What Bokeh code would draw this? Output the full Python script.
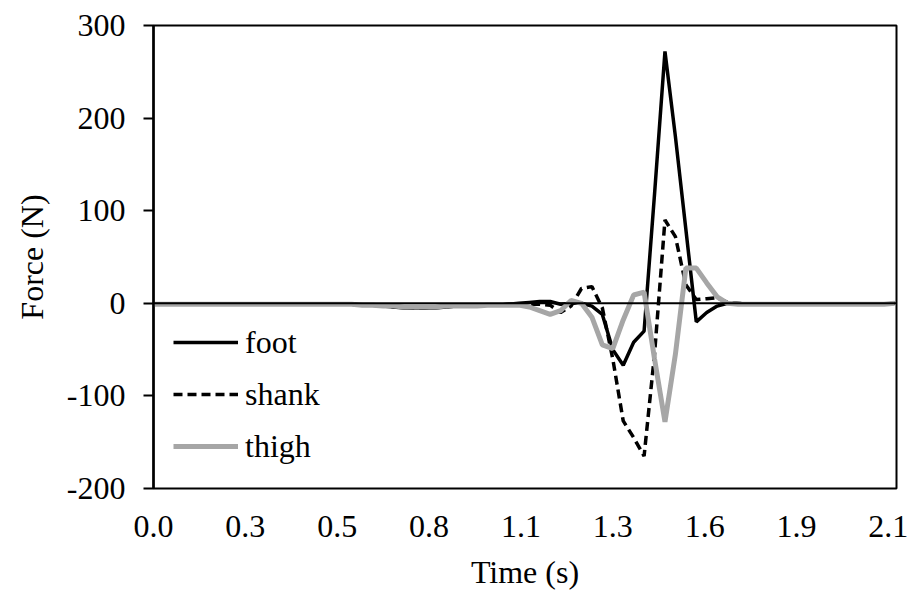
from bokeh.plotting import figure
from bokeh.models import Range1d, FixedTicker, Span, Legend, LegendItem
from bokeh.embed import file_html
from bokeh.resources import INLINE

# ---- data ----
dt = 1 / 33
n_samples = 72
time = [i * dt for i in range(n_samples)]

foot = [-1, -1, -1, -1, -1, -1, -1, -1, -1, -1,
        -1, -1, -1, -1, -1, -1, -1, -1, -1, -1,
        -2, -2, -3, -4, -5, -5, -5, -5, -4, -3,
        -3, -2, -2, -2, -1, 0, 1, 2, 2, -1,
        0, 0, -3, -12, -50, -67, -42, -30, 118, 272,
        180, 80, -20, -10, -3, 0, -1, -1, -1, -1,
        -1, -1, -1, -1, -1, -1, -1, -1, -1, -1,
        -1, 0]

shank = [-1, -1, -1, -1, -1, -1, -1, -1, -1, -1,
         -1, -1, -1, -1, -1, -1, -1, -1, -1, -1,
         -2, -2, -3, -4, -4, -5, -5, -4, -4, -3,
         -3, -2, -2, -2, -1, -1, -1, -1, -2, -10,
         -3, 16, 18, -5, -60, -127, -145, -165, -55, 90,
         72, 20, 4, 5, 6, 1, 0, -1, -1, -1,
         -1, -1, -1, -1, -1, -1, -1, -1, -1, -1,
         -1, 0]

thigh = [-1, -1, -1, -1, -1, -1, -1, -1, -1, -1,
         -1, -1, -1, -1, -1, -1, -1, -1, -1, -1,
         -2, -2, -3, -3, -4, -4, -4, -4, -3, -3,
         -3, -3, -2, -2, -2, -2, -4, -8, -12, -8,
         3, 0, -15, -45, -49, -18, 9, 12, -60, -128,
         -55, 38, 38, 22, 7, 0, -1, -1, -1, -1,
         -1, -1, -1, -1, -1, -1, -1, -1, -1, -1,
         -1, 0]

x_ticks = [0, 0.2667, 0.5333, 0.8, 1.0667, 1.3333, 1.6, 1.8667, 2.1333]
x_tick_labels = ["0.0", "0.3", "0.5", "0.8", "1.1", "1.3", "1.6", "1.9", "2.1"]
y_ticks = [-200, -100, 0, 100, 200, 300]
y_tick_labels = ["-200", "-100", "0", "100", "200", "300"]

FONT = "Liberation Serif"
FS = "32px"

p = figure(width=909, height=601, output_backend="svg", toolbar_location=None,
           x_range=Range1d(0, 2.157), y_range=Range1d(-200, 300),
           min_border_left=153, min_border_right=13, min_border_top=25,
           min_border_bottom=113)
p.border_fill_color = "white"
p.background_fill_color = "white"
p.outline_line_color = "black"
p.outline_line_width = 2
p.grid.visible = False

# y axis
ya = p.yaxis[0]
ya.ticker = FixedTicker(ticks=y_ticks)
ya.major_label_overrides = {t: l for t, l in zip(y_ticks, y_tick_labels)}
ya.minor_tick_line_color = None
ya.major_tick_in = 0
ya.major_tick_out = 10
ya.major_tick_line_width = 2
ya.major_tick_line_color = "black"
ya.axis_line_width = 2.5
ya.axis_line_color = "black"
ya.major_label_standoff = 18
ya.major_label_text_font = FONT
ya.major_label_text_font_size = FS
ya.major_label_text_color = "black"
ya.axis_label = "Force (N)"
ya.axis_label_text_font = FONT
ya.axis_label_text_font_size = FS
ya.axis_label_text_font_style = "normal"
ya.axis_label_text_color = "black"
ya.axis_label_standoff = 14

# x axis
xa = p.xaxis[0]
xa.ticker = FixedTicker(ticks=x_ticks)
xa.major_label_overrides = {t: l for t, l in zip(x_ticks, x_tick_labels)}
xa.minor_tick_line_color = None
xa.major_tick_line_color = None
xa.axis_line_color = None
xa.major_label_standoff = 21
xa.major_label_text_font = FONT
xa.major_label_text_font_size = FS
xa.major_label_text_color = "black"
xa.axis_label = "Time (s)"
xa.axis_label_text_font = FONT
xa.axis_label_text_font_size = FS
xa.axis_label_text_font_style = "normal"
xa.axis_label_text_color = "black"
xa.axis_label_standoff = 14

# zero line
p.add_layout(Span(location=0, dimension="width", line_color="black", line_width=2))

r_foot = p.line(time, foot, line_color="black", line_width=3.5)
r_shank = p.line(time, shank, line_color="black", line_width=3.5, line_dash="9 5")
r_thigh = p.line(time, thigh, line_color="#A6A6A6", line_width=5)

legend = Legend(items=[LegendItem(label="foot", renderers=[r_foot]),
                       LegendItem(label="shank", renderers=[r_shank]),
                       LegendItem(label="thigh", renderers=[r_thigh])],
                location=(20, 22), orientation="vertical",
                glyph_width=65, glyph_height=40, label_height=40, spacing=12,
                label_standoff=7, padding=0, margin=0,
                border_line_color=None, background_fill_alpha=0,
                label_text_font=FONT, label_text_font_size=FS,
                label_text_color="black")
p.add_layout(legend)

open("out.html", "w").write(file_html(p, INLINE))
